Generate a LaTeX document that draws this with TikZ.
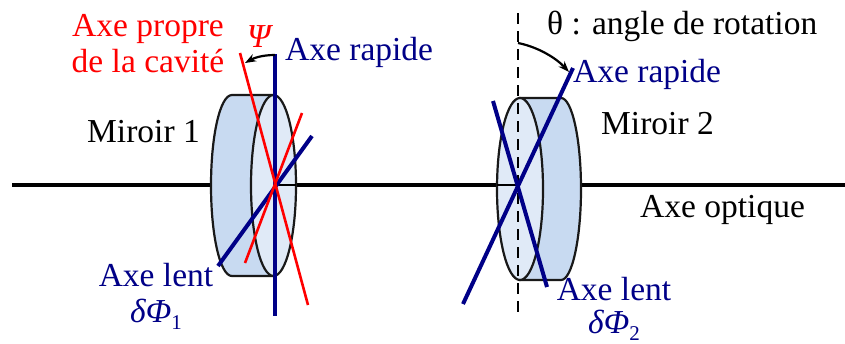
\documentclass[tikz,border=0pt]{standalone}
\usepackage{fontspec}
\setmainfont{Liberation Serif}
\usetikzlibrary{arrows.meta}
\definecolor{navy}{RGB}{0,0,135}
\definecolor{sidefill}{RGB}{200,218,241}
\definecolor{facefill}{RGB}{224,234,247}
\newcommand{\subidx}[1]{\raisebox{-7pt}{\fontsize{21}{21}\selectfont #1}}
\tikzset{
  x=1pt,y=-1pt,
  lbl/.style={font=\fontsize{33.5}{36}\selectfont,inner sep=0pt,align=center},
  outline/.style={draw=black!90,line width=2.2pt},
  navyline/.style={draw=navy,line width=4pt},
  redline/.style={draw=red,line width=2.6pt},
  axisline/.style={draw=black,line width=3.2pt},
  turn/.style={draw=black,line width=2.2pt,-{Stealth[length=11pt,width=8pt]}},
}
\begin{document}
\begin{tikzpicture}
\useasboundingbox (0,0) rectangle (845,343);
% axis
\coordinate (axL) at (12,185);
\coordinate (axR) at (845,185);
\draw[axisline] (axL) -- (axR);
% mirror 1
\path[fill=sidefill,outline] (274,95) -- (232,95) .. controls (220,95) and (211,136) .. (211,185.5) .. controls (211,235) and (220,276) .. (232,276) -- (274,276) -- cycle;
\path[fill=facefill,outline] (273.5,185.5) ellipse[x radius=22.5,y radius=90.5];
\draw[draw=black,line width=2.6pt] (275,185) -- (296,185);
% mirror 2
\path[fill=sidefill,outline] (520,98) -- (561,98) .. controls (572,98) and (581,139) .. (581,189) .. controls (581,239) and (572,280) .. (561,280) -- (520,280) -- cycle;
\path[fill=facefill,outline] (520,189) ellipse[x radius=23,y radius=91];
\draw[draw=black,line width=1.6pt] (497,185) -- (518,185);
% dashed vertical
\coordinate (dT) at (518,13);
\coordinate (dB) at (518,318);
\draw[draw=black,line width=2.8pt,dash pattern=on 11pt off 7pt] (dT) -- (dB);
% mirror 1 lines
\coordinate (r1a) at (240,53); \coordinate (r1b) at (308,305);
\coordinate (r2a) at (245,263); \coordinate (r2b) at (302,113);
\coordinate (b1a) at (275,54); \coordinate (b1b) at (275,316);
\coordinate (b2a) at (218,266); \coordinate (b2b) at (312,136);
\draw[navyline] (b1a) -- (b1b);
\draw[navyline] (b2a) -- (b2b);
\draw[redline] (r1a) -- (r1b);
\draw[redline] (r2a) -- (r2b);
% mirror 2 lines
\coordinate (b3a) at (463,304); \coordinate (b3b) at (573,68);
\coordinate (b4a) at (493,101); \coordinate (b4b) at (547,287);
\draw[navyline] (b3a) -- (b3b);
\draw[navyline] (b4a) -- (b4b);
% turning arrows
\coordinate (p1) at (275,55); \coordinate (p2) at (245,63);
\draw[turn] (p1) .. controls (262,55) and (254,58) .. (p2);
\coordinate (q1) at (518,43); \coordinate (q2) at (569,72);
\draw[turn] (q1) .. controls (538,47) and (556,58) .. (q2);
% labels
\node[lbl,text=red] (lbA) at (148,44) {Axe propre\\de la cavité};
\node[lbl,text=red] (lbP) at (259,37) {\itshape Ψ};
\node[lbl,text=navy,anchor=west] (lbR1) at (285,52) {Axe rapide};
\node[lbl,anchor=west] (lbM1) at (87,132) {Miroir 1};
\node[lbl,text=navy] (lbL1) at (156,296) {Axe lent\\{\itshape δΦ}\subidx{1}};
\node[lbl,anchor=west] (lbT) at (547,26) {θ : angle de rotation};
\node[lbl,text=navy,anchor=west] (lbR2) at (573,74) {Axe rapide};
\node[lbl,anchor=west] (lbM2) at (601,124) {Miroir 2};
\node[lbl,anchor=west] (lbO) at (640,210) {Axe optique};
\node[lbl,text=navy] (lbL2) at (614,309) {Axe lent\\[-3pt]{\itshape δΦ}\subidx{2}};
\end{tikzpicture}
\end{document}
